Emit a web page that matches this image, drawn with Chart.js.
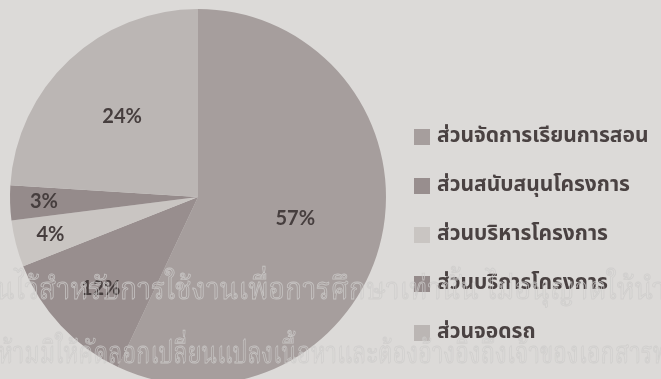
<!DOCTYPE html>
<html>
<head>
<meta charset="utf-8">
<script src="https://cdn.jsdelivr.net/npm/chart.js@4/dist/chart.umd.min.js"></script>
<style>
  html, body { margin: 0; padding: 0; background: #dcdad8; overflow: hidden; }
  #wrap { position: relative; width: 661px; height: 400px; }
  canvas { display: block; }
</style>
</head>
<body>
<div id="wrap"><canvas id="c" width="661" height="400"></canvas></div>
<script>
// Budget shares by department (percent)
const categories = [
  'ส่วนจัดการเรียนการสอน',
  'ส่วนสนับสนุนโครงการ',
  'ส่วนบริหารโครงการ',
  'ส่วนบริการโครงการ',
  'ส่วนจอดรถ'
];
const shares = [57, 12, 4, 3, 24];
const watermarkLines = [
  'นไว้สำหรับการใช้งานเพื่อการศึกษาเท่านั้น ไม่อนุญาตให้นำ',
  'ห้ามมิให้คัดลอกเปลี่ยนแปลงเนื้อหาและต้องอ้างอิงถึงเจ้าของเอกสารท'
];

const sliceColors = ['#a69e9d', '#988e8e', '#c9c5c2', '#958b8b', '#bbb6b4'];
const THAI_FONT = '"Noto Sans Thai", "Noto Sans Thai UI", Loma, Garuda, "Noto Sans", sans-serif';
const THAI_SERIF = '"Noto Serif Thai", "Noto Sans Thai Looped", Norasi, Kinnari, ' + THAI_FONT;

// Percent labels inside each slice, at a per-slice fraction of the radius
const sliceLabels = {
  id: 'sliceLabels',
  afterDatasetsDraw(chart, args, opts) {
    const ctx = chart.ctx;
    const meta = chart.getDatasetMeta(0);
    const values = chart.data.datasets[0].data;
    ctx.save();
    ctx.font = 'bold 20px Lato, "Open Sans", sans-serif';
    ctx.fillStyle = '#463e3e';
    ctx.textAlign = 'center';
    ctx.textBaseline = 'middle';
    meta.data.forEach((arc, i) => {
      const p = arc.getProps(['x', 'y', 'startAngle', 'endAngle', 'outerRadius'], true);
      const mid = (p.startAngle + p.endAngle) / 2;
      const r = p.outerRadius * opts.radii[i];
      ctx.fillText(values[i] + '%', p.x + Math.cos(mid) * r, p.y + Math.sin(mid) * r);
    });
    ctx.restore();
  }
};

// Legend column on the right
const sideLegend = {
  id: 'sideLegend',
  afterDraw(chart, args, opts) {
    const ctx = chart.ctx;
    const labels = chart.data.labels;
    const colors = chart.data.datasets[0].backgroundColor;
    ctx.save();
    ctx.font = 'bold 21px ' + THAI_FONT;
    ctx.textBaseline = 'middle';
    ctx.textAlign = 'left';
    labels.forEach((label, i) => {
      const y = opts.top + i * opts.step;
      ctx.fillStyle = colors[i];
      ctx.fillRect(opts.x, y - opts.box / 2, opts.box, opts.box);
      ctx.fillStyle = '#4a4242';
      ctx.fillText(label, opts.x + opts.box + 7, y + 1, opts.maxText);
    });
    ctx.restore();
  }
};

// Outlined notice text across the lower part
const watermark = {
  id: 'watermark',
  afterDraw(chart, args, opts) {
    const ctx = chart.ctx;
    ctx.save();
    ctx.font = '31px ' + THAI_SERIF;
    ctx.textBaseline = 'middle';
    ctx.textAlign = 'left';
    ctx.strokeStyle = 'rgba(205,204,203,0.8)';
    ctx.lineWidth = 0.9;
    opts.lines.forEach((line, i) => {
      ctx.strokeText(line, opts.x[i], opts.y[i], opts.width[i]);
    });
    ctx.restore();
  }
};

new Chart(document.getElementById('c'), {
  type: 'pie',
  data: {
    labels: categories,
    datasets: [{
      data: shares,
      backgroundColor: sliceColors,
      borderWidth: 0,
      hoverOffset: 0
    }]
  },
  options: {
    responsive: false,
    animation: false,
    events: [],
    layout: { padding: { left: 10, top: 9, right: 275, bottom: 15 } },
    plugins: {
      legend: { display: false },
      tooltip: { enabled: false },
      sliceLabels: { radii: [0.53, 0.71, 0.81, 0.82, 0.59] },
      sideLegend: { x: 414, top: 137, step: 49, box: 16, maxText: 214 },
      watermark: {
        lines: watermarkLines,
        x: [-4, -2],
        y: [294, 358],
        width: [670, 670]
      }
    }
  },
  plugins: [sliceLabels, sideLegend, watermark]
});
</script>
</body>
</html>
